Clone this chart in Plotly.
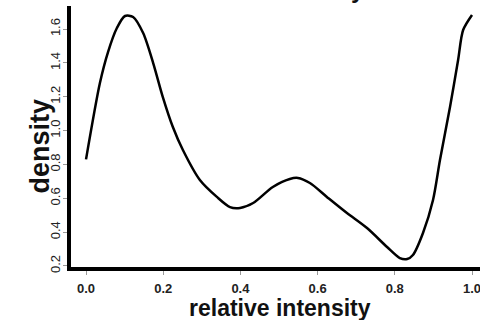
import plotly.graph_objects as go

x_vals = [0.0, 0.036, 0.057, 0.080, 0.101, 0.122, 0.148, 0.174, 0.199, 0.225, 0.251,
          0.295, 0.339, 0.373, 0.399, 0.433, 0.484, 0.528, 0.549, 0.580, 0.624, 0.676,
          0.728, 0.780, 0.813, 0.832, 0.847, 0.873, 0.899, 0.917, 0.943, 0.964, 0.977, 1.0]
density = [0.83, 1.281, 1.464, 1.606, 1.677, 1.671, 1.576, 1.399, 1.198, 1.021, 0.885,
           0.708, 0.608, 0.548, 0.543, 0.572, 0.667, 0.714, 0.720, 0.690, 0.608, 0.513,
           0.424, 0.312, 0.247, 0.241, 0.265, 0.395, 0.590, 0.826, 1.139, 1.417, 1.594, 1.683]

x_ticks = [0.0, 0.2, 0.4, 0.6, 0.8, 1.0]
x_ticklabels = ["0.0", "0.2", "0.4", "0.6", "0.8", "1.0"]
y_ticks = [0.2, 0.4, 0.6, 0.8, 1.0, 1.2, 1.4, 1.6]
y_ticklabels = ["0.2", "0.4", "0.6", "0.8", "1.0", "1.2", "1.4", "1.6"]

FONT = "Liberation Sans, Arial, sans-serif"

fig = go.Figure()
fig.add_trace(go.Scatter(x=x_vals, y=density, mode="lines",
                         line=dict(color="black", width=2.5, shape="spline", smoothing=0.8),
                         hoverinfo="skip", showlegend=False))

fig.update_layout(
    width=480, height=320,
    margin=dict(l=71, r=0, t=6, b=53, autoexpand=False),
    paper_bgcolor="white", plot_bgcolor="white",
    font=dict(family=FONT, color="#222"),
    xaxis=dict(range=[-0.0389, 1.0207], tickvals=x_ticks, ticktext=x_ticklabels,
               automargin=False, ticklabeloverflow="allow", ticklabelstandoff=2,
               showgrid=False, zeroline=False, showline=True, linewidth=4, linecolor="black",
               ticks="outside", ticklen=4, tickwidth=1, tickcolor="#999",
               tickfont=dict(family=FONT, size=13, color="#222", weight="bold")),
    yaxis=dict(range=[0.194, 1.736], tickvals=y_ticks, ticktext=y_ticklabels,
               automargin=False, ticklabelstandoff=-2,
               showgrid=False, zeroline=False, showline=True, linewidth=4, linecolor="black",
               ticks="outside", ticklen=4, tickwidth=1, tickcolor="#999", tickangle=-90,
               tickfont=dict(family=FONT, size=13, color="#222")),
    annotations=[
        dict(text="<b>relative intensity</b>", xref="paper", yref="paper",
             x=(280 - 71) / 409, y=-(308 - 267) / 261, xanchor="center", yanchor="middle",
             showarrow=False, font=dict(family=FONT, size=23, color="#111")),
        dict(text="<b>density</b>", xref="paper", yref="paper", textangle=-90,
             x=-(71 - 39) / 409, y=(267 - 146.5) / 261, xanchor="center", yanchor="middle",
             showarrow=False, font=dict(family=FONT, size=27, color="#111")),
        dict(text="<b>relative intensity</b>", xref="paper", yref="paper",
             x=(270 - 71) / 409, y=1 + (6 + 10.5) / 261, xanchor="center", yanchor="middle",
             showarrow=False, font=dict(family=FONT, size=24, color="#111")),
    ],
)

fig.write_html("out.html")
